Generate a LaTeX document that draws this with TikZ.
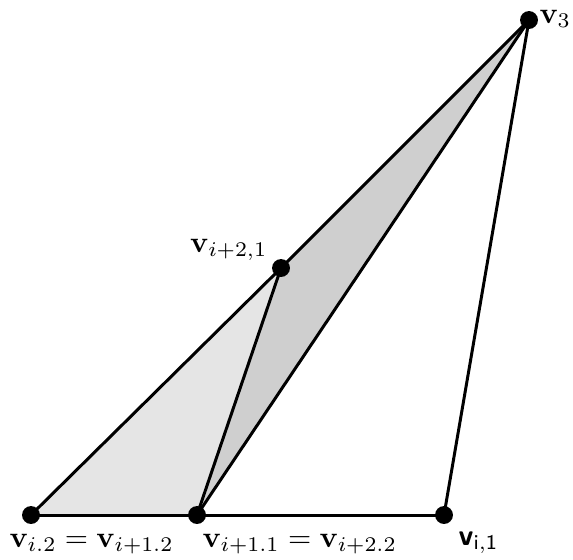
\documentclass[tikz,border=0pt]{standalone}
\usepackage{amsmath, amssymb}
\usetikzlibrary{positioning}

\tikzset{
  vdot/.style={circle, fill=black, inner sep=0pt, minimum size=6pt},
  vlabel/.style={inner sep=0pt},
  edgeline/.style={line width=1pt, line join=round},
}

\begin{document}
\begin{tikzpicture}[x=0.335pt, y=-0.335pt]
  \useasboundingbox (0,0) rectangle (573,559);
  % corners of the triangles
  \coordinate (v3) at (529,20);
  \coordinate (v21) at (281,268);
  \coordinate (v12) at (31,515);
  \coordinate (v11) at (197,515);
  \coordinate (vi1) at (444,515);
  % shaded triangles
  \fill[black!10] (v12) -- (v11) -- (v21) -- cycle;
  \fill[black!19] (v21) -- (v3) -- (v11) -- cycle;
  % edges
  \draw[edgeline] (v12) -- (vi1);
  \draw[edgeline] (v12) -- (v21) -- (v3);
  \draw[edgeline] (v21) -- (v11);
  \draw[edgeline] (v11) -- (v3);
  \draw[edgeline] (vi1) -- (v3);
  % vertices
  \node[vdot] (d3) at (v3) {};
  \node[vdot] (d21) at (v21) {};
  \node[vdot] (d12) at (v12) {};
  \node[vdot] (d11) at (v11) {};
  \node[vdot] (di1) at (vi1) {};
  % labels
  \node[vlabel, anchor=base west] (l3) at (539,23) {$\mathbf{v}_3$};
  \node[vlabel, anchor=base east] (l21) at (268,252) {$\mathbf{v}_{i+2,1}$};
  \node[vlabel, anchor=base west] (l12) at (9,547) {$\mathbf{v}_{i.2} = \mathbf{v}_{i+1.2}$};
  \node[vlabel, anchor=base west] (l11) at (202,547) {$\mathbf{v}_{i+1.1} = \mathbf{v}_{i+2.2}$};
  \node[vlabel, anchor=base west] (li1) at (458,545) {\textsf{\textbf{v}}$_{\textsf{i},\textsf{1}}$};
\end{tikzpicture}
\end{document}
